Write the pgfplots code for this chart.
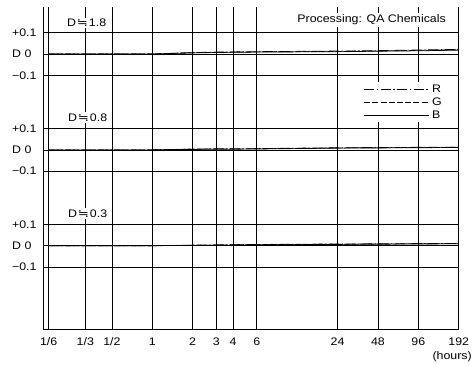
\documentclass[border=0pt]{standalone}
\usepackage{fontspec}
\setmainfont{Liberation Sans}[FakeStretch=1.13]
\newfontfamily\symfont{DejaVu Sans}[FakeStretch=1.2]
\usepackage{pgfplots}
\pgfplotsset{compat=1.18}
\pgfplotstableread{
h      r       g       b
0.1689 0.000   0.000   0.000
0.3167 0.000   0.000   0.000
0.5    0.000   0.000   0.000
1      0.000   0.000   0.000
2      0.007   0.006   0.005
3      0.009   0.008   0.007
4      0.010   0.009   0.008
6      0.011   0.010   0.009
24     0.014   0.012   0.011
48     0.016   0.014   0.013
96     0.019   0.017   0.015
192    0.022   0.020   0.018
}\dataA
\pgfplotstableread{
h      r       g       b
0.1689 -0.450  -0.450  -0.450
0.3167 -0.450  -0.450  -0.450
0.5    -0.450  -0.450  -0.450
1      -0.450  -0.450  -0.450
2      -0.446  -0.447  -0.448
3      -0.445  -0.446  -0.447
4      -0.445  -0.446  -0.447
6      -0.444  -0.445  -0.446
24     -0.440  -0.441  -0.442
48     -0.439  -0.440  -0.441
96     -0.438  -0.439  -0.440
192    -0.437  -0.438  -0.439
}\dataB
\pgfplotstableread{
h      r       g       b
0.1689 -0.900  -0.900  -0.900
0.3167 -0.900  -0.900  -0.900
0.5    -0.900  -0.900  -0.900
1      -0.900  -0.900  -0.900
2      -0.897  -0.898  -0.899
3      -0.896  -0.897  -0.898
4      -0.895  -0.896  -0.897
6      -0.894  -0.895  -0.896
24     -0.892  -0.893  -0.894
48     -0.891  -0.892  -0.893
96     -0.890  -0.891  -0.892
192    -0.889  -0.890  -0.891
}\dataC
\tikzset{
  rline/.style={black, line width=0.7bp, dash pattern=on 10bp off 2.5bp on 1.5bp off 2.5bp},
  gline/.style={black, line width=0.7bp, dash pattern=on 6bp off 2.2bp},
  bline/.style={black, line width=0.7bp},
}
\newcommand{\Dapprox}[1]{D\kern0.8bp{\symfont ≒}\kern1bp#1}
\begin{document}
\begin{tikzpicture}[font=\fontsize{11}{13}\selectfont]
\useasboundingbox (0bp,0bp) rectangle (473bp,-365bp);
\begin{axis}[
  at={(43.3bp,-329.3bp)}, anchor=south west,
  scale only axis, width=415.4bp, height=322.3bp,
  xmode=log, log basis x=2,
  xmin=0.1541, xmax=192,
  ymin=-1.2925, ymax=0.2207,
  axis x line=bottom, axis y line=left,
  axis line style={-, black, line width=0.8bp},
  xtick={0.1689,0.3167,0.5,1,2,3,4,6,24,48,96,192},
  xticklabels={1/6,1/3,1/2,1,2,3,4,6,24,48,96,192},
  ytick={-1.0,-0.9,-0.8,-0.55,-0.45,-0.35,-0.1,0,0.1},
  yticklabels={−0.1,D 0,+0.1,−0.1,D 0,+0.1,−0.1,D 0,+0.1},
  minor tick num=0,
  major tick length=0pt,
  xmajorgrids, ymajorgrids,
  major grid style={black, line width=0.6bp},
  xticklabel style={anchor=base, yshift=-16.4bp},
  yticklabel style={text width=28bp, align=left, inner sep=0pt, anchor=east, xshift=-3bp},
  legend style={draw=none, fill=white, at={(0.7665,0.767)}, anchor=north west,
    inner xsep=2bp, inner ysep=1bp, row sep=0bp, nodes={inner ysep=1.8bp, inner xsep=2.5bp}},
  legend cell align=left,
  legend image code/.code={\draw[#1] (0bp,0bp) -- (65bp,0bp);},
  clip=false,
]
\addplot[rline] table[x=h,y=r] {\dataA};
\addlegendentry{R}
\addplot[gline] table[x=h,y=g] {\dataA};
\addlegendentry{G}
\addplot[bline] table[x=h,y=b] {\dataA};
\addlegendentry{B}
\addplot[rline, forget plot] table[x=h,y=r] {\dataB};
\addplot[gline, forget plot] table[x=h,y=g] {\dataB};
\addplot[bline, forget plot] table[x=h,y=b] {\dataB};
\addplot[rline, forget plot] table[x=h,y=r] {\dataC};
\addplot[gline, forget plot] table[x=h,y=g] {\dataC};
\addplot[bline, forget plot] table[x=h,y=b] {\dataC};
\end{axis}
\node[fill=white, inner sep=1.5bp, anchor=base west] at (65.5bp,-26.7bp) {\Dapprox{1.8}};
\node[fill=white, inner sep=1.5bp, anchor=base west] at (66.5bp,-121bp) {\Dapprox{0.8}};
\node[fill=white, inner sep=1.5bp, anchor=base west] at (66.5bp,-217.3bp) {\Dapprox{0.3}};
\node[fill=white, inner sep=2bp, anchor=base east] at (448bp,-22.7bp) {Processing: QA Chemicals};
\node[anchor=base east, inner sep=0pt] at (472bp,-359bp) {(hours)};
\end{tikzpicture}
\end{document}
